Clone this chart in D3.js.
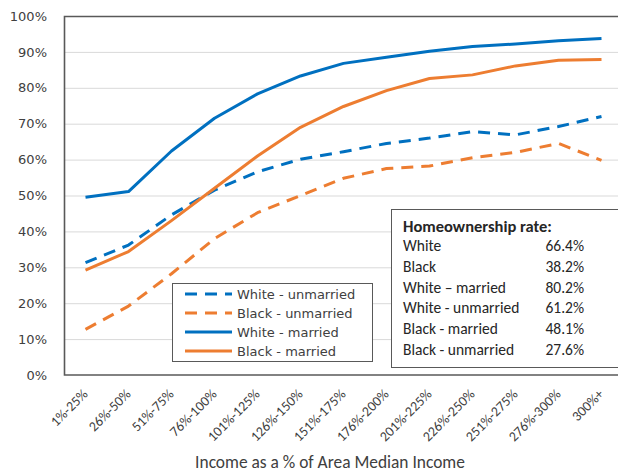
<!DOCTYPE html>
<html>
<head>
<meta charset="utf-8">
<script src="https://cdn.jsdelivr.net/npm/d3@7/dist/d3.min.js"></script>
<style>
  html, body { margin: 0; padding: 0; background: #fff; }
  svg { display: block; }
</style>
</head>
<body>
<svg id="chart" width="618" height="472"></svg>
<script>
// ---- data ----
const categories = ["1%-25%","26%-50%","51%-75%","76%-100%","101%-125%","126%-150%","151%-175%","176%-200%","201%-225%","226%-250%","251%-275%","276%-300%","300%+"];
const whiteUnmarried = [31.3, 36.2, 44.6, 51.5, 56.6, 60.1, 62.2, 64.5, 66.0, 67.8, 66.9, 69.2, 72.0];
const blackUnmarried = [12.7, 19.2, 28.2, 38.0, 45.2, 50.0, 54.8, 57.5, 58.2, 60.5, 62.0, 64.5, 59.8];
const whiteMarried   = [49.5, 51.1, 62.4, 71.5, 78.3, 83.3, 86.8, 88.5, 90.2, 91.5, 92.2, 93.1, 93.7];
const blackMarried   = [29.2, 34.4, 43.0, 52.0, 61.0, 69.0, 74.8, 79.2, 82.6, 83.6, 86.1, 87.7, 87.9];
const yTicks = [0, 10, 20, 30, 40, 50, 60, 70, 80, 90, 100];
const seriesNames = ["White - unmarried", "Black - unmarried", "White - married", "Black - married"];
const rateLabels = ["White", "Black", "White \u2013 married", "White - unmarried", "Black - married", "Black - unmarried"];
const rateValues = ["66.4%", "38.2%", "80.2%", "61.2%", "48.1%", "27.6%"];
const boxTitle = "Homeownership rate:";
const xTitle = "Income as a % of Area Median Income";

// ---- styles ----
const BLUE = "#0070c0", ORANGE = "#ed7d31";
const CAL = "Carlito, Calibri, Lato, sans-serif";
const series = [
  { name: seriesNames[0], values: whiteUnmarried, color: BLUE,   dash: "12,8" },
  { name: seriesNames[1], values: blackUnmarried, color: ORANGE, dash: "12,8" },
  { name: seriesNames[2], values: whiteMarried,   color: BLUE,   dash: null },
  { name: seriesNames[3], values: blackMarried,   color: ORANGE, dash: null }
];

const svg = d3.select("#chart");
const plot = { left: 64, top: 16, right: 623, bottom: 375 };

const x = d3.scaleBand().domain(categories).range([plot.left, plot.right]);
const xc = c => x(c) + x.bandwidth() / 2;
const y = d3.scaleLinear().domain([0, 100]).range([plot.bottom, plot.top]);

// gridlines
svg.append("g").selectAll("line").data(yTicks.filter(t => t > 0 && t < 100)).join("line")
  .attr("x1", plot.left).attr("x2", 618)
  .attr("y1", d => y(d) + 0.5).attr("y2", d => y(d) + 0.5)
  .attr("stroke", "#d9d9d9").attr("stroke-width", 1);

// y axis labels
const yAxis = d3.axisLeft(y).tickValues(yTicks).tickFormat(d => d + "%").tickSize(0).tickPadding(0);
const gy = svg.append("g").attr("transform", `translate(${plot.left - 17},0)`).call(yAxis);
gy.select(".domain").remove();
gy.selectAll("text").attr("font-family", "DejaVu Sans, Verdana, sans-serif")
  .attr("font-size", 13).attr("fill", "#404040");

// plot border
svg.append("path")
  .attr("d", `M618,${plot.top + 0.5}H${plot.left + 0.5}V${plot.bottom}H618`)
  .attr("fill", "none").attr("stroke", "#595959").attr("stroke-width", 1.6);

// x axis labels
const xAxis = d3.axisBottom(x).tickSize(0).tickPadding(0);
const gx = svg.append("g").attr("transform", `translate(0,${plot.bottom})`).call(xAxis);
gx.select(".domain").remove();
gx.selectAll(".tick text")
  .attr("font-family", CAL)
  .attr("font-size", 14).attr("fill", "#404040")
  .attr("text-anchor", "end")
  .attr("dy", 0)
  .attr("transform", "translate(3,20) rotate(-45)");

// axis title
svg.append("text").text(xTitle)
  .attr("x", 330).attr("y", 468)
  .attr("text-anchor", "middle")
  .attr("font-family", CAL)
  .attr("font-size", 17.4).attr("fill", "#404040");

// lines
const line = d3.line().x((d, i) => xc(categories[i])).y(d => y(d));
svg.append("g").selectAll("path").data(series).join("path")
  .attr("d", s => line(s.values))
  .attr("fill", "none")
  .attr("stroke", s => s.color)
  .attr("stroke-width", 3)
  .attr("stroke-dasharray", s => s.dash)
  .attr("stroke-linejoin", "round");

// legend
const leg = svg.append("g");
leg.append("rect").attr("x", 172.5).attr("y", 283.5).attr("width", 200).attr("height", 78)
  .attr("fill", "#fff").attr("stroke", "#595959").attr("stroke-width", 1);
const items = leg.selectAll("g.item").data(series).join("g").attr("class", "item")
  .attr("transform", (d, i) => `translate(0,${294 + i * 19})`);
items.append("line").attr("x1", 185).attr("x2", 232).attr("y1", 0).attr("y2", 0)
  .attr("stroke", d => d.color).attr("stroke-width", 3)
  .attr("stroke-dasharray", d => d.dash);
items.append("text").text(d => d.name).attr("x", 237).attr("y", 0).attr("dy", "0.36em")
  .attr("font-family", "DejaVu Sans, Verdana, sans-serif").attr("font-size", 13).attr("fill", "#404040");

// text box
const tb = svg.append("g");
tb.append("rect").attr("x", 391.5).attr("y", 209.5).attr("width", 230).attr("height", 158)
  .attr("fill", "#fff").attr("stroke", "#595959").attr("stroke-width", 1);
tb.append("text").text(boxTitle).attr("x", 403).attr("y", 232)
  .attr("font-family", CAL).attr("font-weight", "bold")
  .attr("font-size", 16.5).attr("fill", "#262626");
const rows = tb.selectAll("g.row").data(rateLabels).join("g").attr("class", "row")
  .attr("transform", (d, i) => `translate(0,${251 + i * 20.8})`);
rows.append("text").text(d => d).attr("x", 403).attr("y", 0)
  .attr("font-family", CAL).attr("font-size", 15.5).attr("fill", "#262626");
rows.append("text").text((d, i) => rateValues[i]).attr("x", 584).attr("y", 0).attr("text-anchor", "end")
  .attr("font-family", CAL).attr("font-size", 15.5).attr("fill", "#262626");
</script>
</body>
</html>
